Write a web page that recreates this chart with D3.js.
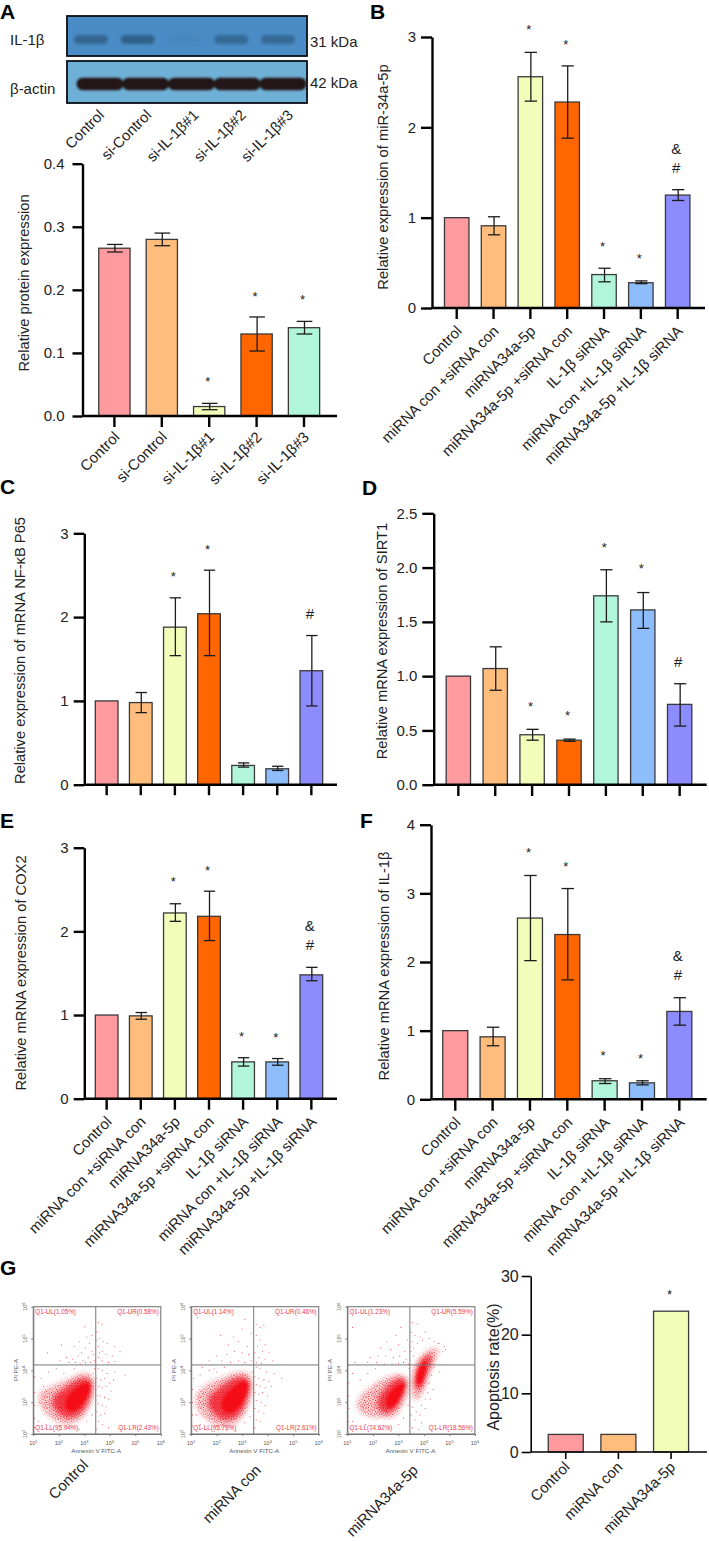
<html>
<head><meta charset="utf-8">
<style>
body { margin:0; background:#fff; }
text { font-family:"Liberation Sans", Arial, sans-serif; fill:#222; }
</style>
</head>
<body>
<svg id="svg" width="709" height="1541"></svg>
<script src="https://d3js.org/d3.v7.min.js"></script>
<script>

// --- bar data ---
var groupsA = ["Control", "si-Control", "si-IL-1\u03b2#1", "si-IL-1\u03b2#2", "si-IL-1\u03b2#3"];
var groupsLong = ["Control", "miRNA con +siRNA con", "miRNA34a-5p", "miRNA34a-5p +siRNA con", "IL-1\u03b2 siRNA", "miRNA con +IL-1\u03b2 siRNA", "miRNA34a-5p +IL-1\u03b2 siRNA"];
var groupsG = ["Control", "miRNA con", "miRNA34a-5p"];

var valsA = [0.266, 0.28, 0.015, 0.13, 0.14];
var lowA  = [0.26, 0.27, 0.01, 0.103, 0.13];
var highA = [0.272, 0.29, 0.02, 0.157, 0.15];
var marksA = [[2,"*",0.06],[3,"*",0.195],[4,"*",0.19]];

var valsB = [1, 0.91, 2.56, 2.28, 0.37, 0.28, 1.25];
var lowB  = [1, 0.81, 2.29, 1.88, 0.29, 0.27, 1.19];
var highB = [1, 1.01, 2.83, 2.68, 0.44, 0.30, 1.31];
var marksB = [[2,"*",3.12],[3,"*",2.96],[4,"*",0.72],[5,"*",0.587],[6,"&",1.77],[6,"#",1.55]];

var valsC = [1, 0.98, 1.88, 2.04, 0.23, 0.19, 1.36];
var lowC  = [1, 0.86, 1.54, 1.54, 0.21, 0.17, 0.94];
var highC = [1, 1.10, 2.23, 2.56, 0.26, 0.22, 1.78];
var marksC = [[2,"*",2.53],[3,"*",2.85],[6,"#",2.04]];

var valsD = [1, 1.07, 0.46, 0.41, 1.74, 1.61, 0.74];
var lowD  = [1, 0.87, 0.41, 0.40, 1.50, 1.44, 0.54];
var highD = [1, 1.27, 0.51, 0.42, 1.98, 1.77, 0.93];
var marksD = [[2,"*",0.755],[3,"*",0.667],[4,"*",2.22],[5,"*",2.02],[6,"#",1.13]];

var valsE = [1, 0.99, 2.22, 2.18, 0.44, 0.44, 1.48];
var lowE  = [1, 0.95, 2.12, 1.89, 0.39, 0.40, 1.41];
var highE = [1, 1.03, 2.33, 2.48, 0.49, 0.48, 1.57];
var marksE = [[2,"*",2.64],[3,"*",2.77],[4,"*",0.79],[5,"*",0.777],[6,"&",2.07],[6,"#",1.84]];

var valsF = [1, 0.91, 2.64, 2.40, 0.27, 0.24, 1.28];
var lowF  = [1, 0.78, 2.02, 1.74, 0.23, 0.21, 1.08];
var highF = [1, 1.05, 3.26, 3.07, 0.30, 0.27, 1.48];
var marksF = [[2,"*",3.65],[3,"*",3.45],[4,"*",0.69],[5,"*",0.645],[6,"&",2.10],[6,"#",1.81]];

var valsG = [3.0, 3.0, 24.0];
var lowG  = [3.0, 3.0, 24.0];
var highG = [3.0, 3.0, 24.0];
var marksG = [[2,"*",27.5]];

var ticksA = [0, 0.1, 0.2, 0.3, 0.4];
var ticks3 = [0, 1, 2, 3];
var ticksD = [0, 0.5, 1, 1.5, 2, 2.5];
var ticksF = [0, 1, 2, 3, 4];
var ticksG = [0, 10, 20, 30];

var colorsLong = ["#ff9a9e", "#ffbd7d", "#f3fdba", "#ff6600", "#b1f5db", "#8dbdfa", "#8c8cff"];
var colorsA = ["#ff9a9e", "#ffbd7d", "#f3fdba", "#ff6600", "#b1f5db"];

// --- western blot, band strength per lane ---
var blotLanes = [0, 1, 2, 3, 4];
var blotIL1b = [0.8, 0.9, 0.1, 0.72, 0.72];
var blotActin = [1, 1, 1, 1, 1];

// --- flow plots: density outlines as [log10 annexin, log10 PI] ---
var outer1 = [[1.13,3.28],[1.65,3.49],[2.24,3.64],[2.77,3.91],[3.29,3.91],[3.42,3.59],[3.29,2.96],[2.90,2.44],[2.31,2.23],[1.79,2.44],[1.33,2.75]];
var mid1 = [[1.65,3.12],[2.24,3.43],[2.77,3.75],[3.23,3.75],[3.33,3.49],[3.16,2.96],[2.77,2.54],[2.24,2.49],[1.85,2.75]];
var core1 = [[2.24,3.12],[2.64,3.43],[3.03,3.64],[3.25,3.59],[3.20,3.28],[2.90,2.86],[2.51,2.65],[2.24,2.81]];

var outer2 = [[1.1,3.25],[1.6,3.55],[2.2,3.75],[2.75,3.95],[3.3,3.95],[3.42,3.6],[3.3,2.95],[2.95,2.4],[2.3,2.15],[1.75,2.35],[1.25,2.7]];
var mid2 = [[1.55,3.1],[2.15,3.45],[2.7,3.8],[3.22,3.8],[3.33,3.5],[3.15,2.95],[2.8,2.5],[2.25,2.4],[1.8,2.7]];
var core2 = [[2.15,3.1],[2.6,3.45],[3.0,3.7],[3.25,3.62],[3.2,3.28],[2.9,2.8],[2.5,2.6],[2.2,2.75]];

var outer3 = [[1.23,2.96],[1.76,3.38],[2.28,3.70],[2.93,3.91],[3.39,3.80],[3.39,3.28],[3.06,2.75],[2.80,2.49],[2.28,2.54],[1.63,2.54]];
var mid3 = [[2.15,3.12],[2.54,3.49],[3.0,3.78],[3.32,3.75],[3.26,3.33],[2.93,2.81],[2.54,2.60],[2.21,2.75]];
var core3 = [[2.48,3.12],[2.80,3.43],[3.19,3.64],[3.28,3.54],[3.06,3.12],[2.80,2.81],[2.54,2.81]];
var outer3b = [[3.52,3.80],[3.71,4.32],[4.24,4.69],[4.63,4.74],[4.50,4.43],[4.17,3.91],[3.98,3.28],[3.65,2.96],[3.52,3.28]];
var mid3b = [[3.65,3.80],[3.85,4.32],[4.30,4.59],[4.30,4.27],[4.04,3.80],[3.91,3.38],[3.65,3.38]];
var core3b = [[3.69,3.80],[3.85,4.17],[4.11,4.38],[4.09,4.01],[3.91,3.54],[3.72,3.54]];

// stray events
var stray1 = [[3.02,5.37],[3.1,5.05],[3.3,5.1],[2.1,4.8],[2.6,4.75],[2.8,4.9],[3.2,4.85],[2.9,4.55],[3.05,4.7],[3.3,4.6],[2.3,4.4],[2.55,4.35],[2.75,4.45],[2.95,4.3],[3.15,4.4],[3.35,4.5],[1.55,4.55],[2.05,4.3],[2.4,4.25],[2.65,4.25],[2.85,4.2],[3.05,4.25],[3.25,4.25],[3.4,4.3],
  [3.55,5.5],[3.7,5.45],[3.5,5.2],[3.6,5.0],[3.75,4.9],[3.9,4.85],[4.2,4.75],[3.55,4.75],[3.7,4.6],[3.85,4.5],[4.1,4.45],[4.4,4.6],[3.55,4.4],[3.7,4.3],[3.95,4.25],[4.2,4.28],[3.6,4.55],[3.5,4.95],
  [3.55,4.05],[3.7,4.0],[3.9,3.9],[4.2,3.95],[4.6,3.85],[3.5,3.75],[3.65,3.7],[3.8,3.75],[4.0,3.6],[4.15,3.7],[3.55,3.5],[3.7,3.45],[3.85,3.5],[4.05,3.35],[3.5,3.2],[3.62,3.2],[3.8,3.15],[3.95,3.1],[3.55,2.95],[3.7,2.9],[3.85,2.85],[3.5,2.7],[3.65,2.6],[3.8,2.65],[3.55,2.4],[3.7,2.3],[3.95,2.2],[3.5,2.15],
  [1.05,3.3],[1.05,2.9],[1.05,2.5],[1.05,3.8],[1.05,2.2],[1.3,3.75],[1.6,3.95],[1.9,4.05],[2.2,3.9],[2.6,4.05],[1.25,3.0],[1.2,2.4],[1.5,2.3],[1.7,2.15],[2.0,2.1],[2.5,2.2],[2.8,2.15],[3.1,2.4],[3.3,2.6],[3.35,3.9],[3.4,4.05],[1.4,3.5]];
var stray2 = [[1.25,5.65],[2.15,5.1],[2.65,5.05],[3.0,5.3],[3.1,5.6],[2.45,4.8],[2.85,4.9],[3.2,4.75],[3.35,5.15],[2.0,4.45],[2.4,4.5],[2.7,4.6],[3.0,4.55],[3.25,4.5],[1.7,4.3],[2.2,4.3],[2.55,4.25],[2.85,4.3],[3.1,4.25],[3.35,4.3],[1.45,4.1],[1.9,4.05],[2.3,4.1],
  [3.55,5.45],[3.7,5.35],[3.85,5.4],[3.55,5.1],[3.7,4.95],[3.9,4.8],[3.6,4.75],[3.8,4.6],[4.05,4.55],[3.5,4.55],[3.65,4.4],[3.9,4.35],[4.2,4.3],[3.55,4.25],[3.75,4.22],
  [3.55,4.1],[3.7,4.05],[3.95,3.95],[4.25,3.9],[4.55,3.75],[3.5,3.8],[3.65,3.75],[3.85,3.7],[4.05,3.65],[3.55,3.55],[3.7,3.5],[3.9,3.45],[4.15,3.5],[3.5,3.3],[3.65,3.25],[3.8,3.3],[4.0,3.2],[3.55,3.05],[3.75,3.0],[3.9,2.9],[3.5,2.8],[3.65,2.7],[3.85,2.65],[3.55,2.45],[3.7,2.4],[3.5,2.2],
  [1.05,3.4],[1.05,3.0],[1.05,2.6],[1.05,2.25],[1.1,3.75],[1.35,3.85],[1.7,4.0],[2.0,3.95],[1.2,2.6],[1.35,2.3],[1.6,2.15],[1.9,2.08],[2.4,2.12],[2.75,2.1],[3.1,2.35],[3.3,2.55],[3.38,3.95]];
var stray3 = [[1.2,5.35],[2.55,4.9],[2.9,5.1],[3.1,5.35],[2.3,4.7],[2.7,4.65],[3.0,4.8],[3.25,4.6],[3.35,4.95],[1.9,4.4],[2.2,4.45],[2.5,4.45],[2.8,4.4],[3.05,4.45],[3.3,4.35],[1.3,4.25],[1.8,4.25],[2.15,4.25],[2.45,4.2],[2.75,4.2],[3.0,4.22],[3.2,4.25],[3.4,4.2],
  [3.55,5.5],[3.75,5.45],[3.5,5.2],[3.65,5.1],[3.85,5.05],[4.05,5.2],[3.55,4.9],[3.75,4.85],[3.95,4.95],[4.2,5.0],[3.6,4.7],[4.4,4.9],[4.6,4.85],[3.5,4.6],[3.6,4.45],[4.75,4.6],[4.8,4.75],[4.55,4.85],[4.85,4.65],
  [4.4,4.1],[4.6,3.95],[4.3,3.85],[4.2,3.6],[4.35,3.4],[4.15,3.3],[4.05,3.1],[4.25,3.1],[3.9,2.9],[4.05,2.8],[3.55,2.85],[3.7,2.7],[3.85,2.6],[3.5,2.6],[3.65,2.45],[3.9,2.35],[3.55,2.2],[3.8,2.15],
  [1.05,3.6],[1.05,3.2],[1.05,2.8],[1.05,2.4],[1.2,3.9],[1.5,3.7],[1.8,3.9],[2.1,4.05],[1.2,2.4],[1.45,2.25],[1.7,2.3],[1.95,2.15],[2.3,2.2],[2.6,2.15],[3.0,2.3],[3.2,2.5],[3.38,2.9],[3.42,4.05]];

var flowNames = ["Control", "miRNA con", "miRNA34a-5p"];
var quadText1 = ["Q1-UL(1.05%)", "Q1-UR(0.58%)", "Q1-LL(95.94%)", "Q1-LR(2.43%)"];
var quadText2 = ["Q1-UL(1.14%)", "Q1-UR(0.46%)", "Q1-LL(95.79%)", "Q1-LR(2.61%)"];
var quadText3 = ["Q1-UL(1.23%)", "Q1-UR(5.59%)", "Q1-LL(74.62%)", "Q1-LR(18.56%)"];
var xExp = [1, 2, 3, 4, 5, 6];
var yExp = [2, 3, 4, 5, 6];
var gateX = 3.45, gateY = 4.17;

// stipple tile for the thin edge of the clouds
var tileSparse = [[0.5,1],[3,0.5],[5.5,2],[8,1],[10,2.5],[1.5,3.5],[4,4],[7,3.5],[9,5],[0.5,6],[2.5,5.5],[5.5,6],[7.5,6.5],[10,7.5],[1.5,8],[4,7.5],[6,8.5],[8.5,9],[0.5,10],[3,10],[5.5,10.5],[10,10]];
var tileDense = [[0.5,0.5],[2,1],[3.5,0.5],[5,1.5],[6.5,0.5],[8,1.5],[9.5,0.5],[1,2.5],[2.5,3],[4,2.5],[6,3],[7.5,3],[9,2.5],[10.5,3],[0.5,4.5],[2,5],[3.5,4.5],[5,5],[6.5,4.5],[8,5],[9.5,4.5],[1,6.5],[2.5,6.5],[4,6.5],[5.5,7],[7,6.5],[8.5,7],[10,6.5],[0.5,8.5],[2,8.5],[3.5,8],[5,9],[6.5,8.5],[8,9],[9.5,8.5],[1,10.5],[3,10],[4.5,10.5],[6,10.5],[7.5,10.5],[9.5,10.5]];

var svg = d3.select("#svg");
var defs = svg.append("defs");
function blurDef(id, sd) {
  defs.append("filter").attr("id", id).attr("x", "-40%").attr("y", "-80%").attr("width", "180%").attr("height", "260%")
    .append("feGaussianBlur").attr("stdDeviation", sd);
}
blurDef("soft", 1.1);
blurDef("soft2", 1.8);
blurDef("soft3", 2.6);
blurDef("grain", 0.22);

function tile(id, dots, r) {
  var p = defs.append("pattern").attr("id", id).attr("patternUnits", "userSpaceOnUse").attr("width", 11).attr("height", 11);
  p.selectAll("circle").data(dots).join("circle").attr("cx", d => d[0]).attr("cy", d => d[1]).attr("r", r).style("fill", "#f01420");
}
tile("stipS", tileSparse, 0.55);
tile("stipD", tileDense, 0.6);

function barPanel(o) {
  var y = d3.scaleLinear().domain([0, o.max]).range([o.y0, o.yTop]);
  var x = d3.scaleBand().domain(o.groups).range([o.x0, o.x1]).paddingInner(o.pad).paddingOuter(o.pad/2);
  var g = svg.append("g");
  var mx = i => x(o.groups[i]) + x.bandwidth()/2;

  g.selectAll("rect.bar").data(o.vals).join("rect").attr("class", "bar")
    .attr("x", (d,i) => x(o.groups[i]))
    .attr("y", d => y(d))
    .attr("width", x.bandwidth())
    .attr("height", d => y(0) - y(d))
    .style("fill", (d,i) => o.colors[i])
    .style("stroke", "#3a3a3a")
    .style("stroke-width", 1.3);

  var cap = x.bandwidth()*0.25;
  o.vals.forEach((d,i) => {
    if (o.high[i] == o.low[i]) return;
    var cx = mx(i) + 0.5;
    var eb = g.append("g").style("stroke", "#1c1c1c").style("stroke-width", 1.3);
    eb.append("line").attr("x1", cx).attr("x2", cx).attr("y1", y(o.low[i])).attr("y2", y(o.high[i]));
    eb.append("line").attr("x1", cx-cap).attr("x2", cx+cap).attr("y1", y(o.low[i])).attr("y2", y(o.low[i]));
    eb.append("line").attr("x1", cx-cap).attr("x2", cx+cap).attr("y1", y(o.high[i])).attr("y2", y(o.high[i]));
  });

  g.selectAll("text.mark").data(o.marks).join("text").attr("class", "mark")
    .attr("x", d => mx(d[0]) - 1.5)
    .attr("y", d => y(d[2]))
    .attr("dy", d => d[1] == "*" ? "0.62em" : "0.36em")
    .attr("text-anchor", "middle")
    .style("font-size", d => d[1] == "*" ? "13px" : "15px")
    .text(d => d[1]);

  // axes go over the bars
  var yAxis = g.append("g").attr("transform", "translate(" + o.axisX + ",0)")
    .call(d3.axisLeft(y).tickValues(o.ticks).tickSize(o.tickLen).tickSizeOuter(0).tickPadding(o.tickPad).tickFormat(o.fmt));
  var xAxis = g.append("g").attr("transform", "translate(0," + o.y0 + ")")
    .call(d3.axisBottom(x).tickSize(o.tickDown).tickSizeOuter(0));
  xAxis.select(".domain").remove();
  xAxis.append("line").attr("x1", o.axisX).attr("x2", o.xEnd).attr("stroke", "#000").attr("stroke-width", o.axisW);

  yAxis.selectAll("path,line").attr("stroke", "#000").attr("stroke-width", o.axisW);
  xAxis.selectAll(".tick line").attr("stroke", "#000").attr("stroke-width", o.axisW);
  yAxis.selectAll("text").style("font-size", o.tickFont + "px").style("fill", "#222");

  var tx = xAxis.selectAll(".tick text");
  if (o.noLabels) tx.remove();
  else tx.attr("text-anchor", "end").attr("x", 0).attr("y", 0).attr("dy", 0)
    .attr("transform", "translate(" + o.lx + "," + o.ly + ") rotate(-45)")
    .style("font-size", "15px").style("fill", "#222");

  svg.append("text").attr("text-anchor", "middle")
    .attr("transform", "translate(" + o.titleX + "," + o.titleY + ") rotate(-90)")
    .style("font-size", o.titleFont + "px")
    .text(o.title);
}

var common = { axisW: 2.4, tickFont: 15, tickPad: 5, titleFont: 14.7 };

barPanel(Object.assign({}, common, { groups: groupsA, vals: valsA, low: lowA, high: highA, marks: marksA, colors: colorsA, ticks: ticksA, max: 0.4,
  fmt: d3.format(".1f"), y0: 416, yTop: 163.7, x0: 90.7, x1: 327.7, pad: 0.34, axisX: 82.5, xEnd: 337, tickLen: 10, tickDown: 11, tickPad: 8,
  lx: 6, ly: 22, titleX: 28.5, titleY: 283, title: "Relative protein expression" }));

barPanel(Object.assign({}, common, { groups: groupsLong, vals: valsB, low: lowB, high: highB, marks: marksB, colors: colorsLong, ticks: ticks3, max: 3,
  fmt: d3.format("d"), y0: 308, yTop: 37, x0: 438.3, x1: 696.1, pad: 0.335, axisX: 432, xEnd: 705, tickLen: 11, tickDown: 11,
  lx: 6, ly: 24, titleX: 388, titleY: 177, title: "Relative expression of miR-34a-5p" }));

barPanel(Object.assign({}, common, { groups: groupsLong, vals: valsC, low: lowC, high: highC, marks: marksC, colors: colorsLong, ticks: ticks3, max: 3,
  fmt: d3.format("d"), y0: 784.7, yTop: 533.3, x0: 89.6, x1: 328.4, pad: 0.335, axisX: 84.3, xEnd: 337, tickLen: 10.6, tickDown: 10.5, noLabels: true,
  titleX: 25, titleY: 650.5, title: "Relative expression of mRNA NF-\u03baB P65" }));

barPanel(Object.assign({}, common, { groups: groupsLong, vals: valsD, low: lowD, high: highD, marks: marksD, colors: colorsLong, ticks: ticksD, max: 2.5,
  fmt: d3.format(".1f"), y0: 784.7, yTop: 513.3, x0: 439.9, x1: 698.1, pad: 0.34, axisX: 433.7, xEnd: 706.7, tickLen: 11.4, tickDown: 11.3, noLabels: true,
  titleX: 386.5, titleY: 641, title: "Relative mRNA expression of SIRT1" }));

barPanel(Object.assign({}, common, { groups: groupsLong, vals: valsE, low: lowE, high: highE, marks: marksE, colors: colorsLong, ticks: ticks3, max: 3,
  fmt: d3.format("d"), y0: 1098.7, yTop: 847.7, x0: 89.6, x1: 328.4, pad: 0.335, axisX: 84.3, xEnd: 337, tickLen: 10.6, tickDown: 11,
  lx: 6, ly: 24, titleX: 25.5, titleY: 973, title: "Relative mRNA expression of COX2" }));

barPanel(Object.assign({}, common, { groups: groupsLong, vals: valsF, low: lowF, high: highF, marks: marksF, colors: colorsLong, ticks: ticksF, max: 4,
  fmt: d3.format("d"), y0: 1099.3, yTop: 824.7, x0: 436.6, x1: 698, pad: 0.33, axisX: 431, xEnd: 706.7, tickLen: 11, tickDown: 11.4,
  lx: 6, ly: 24, titleX: 388.5, titleY: 966, title: "Relative mRNA expression of IL-1\u03b2" }));

barPanel(Object.assign({}, common, { groups: groupsG, vals: valsG, low: lowG, high: highG, marks: marksG, colors: colorsLong, ticks: ticksG, max: 30,
  fmt: d3.format("d"), y0: 1452, yTop: 1276, x0: 539.4, x1: 697.4, pad: 0.335, axisX: 530.7, xEnd: 707, tickLen: 9, tickDown: 7, axisW: 1.6, tickFont: 16, tickPad: 3, titleFont: 16,
  lx: 5, ly: 16, titleX: 499, titleY: 1367, title: "Apoptosis rate(%)" }));

// western blot
function blot(yTop, h, fill, lanes, strength, cy, bw, bh, color, filt, range) {
  var x = d3.scalePoint().domain(lanes).range(range);
  svg.append("rect").attr("x", 67).attr("y", yTop).attr("width", 240).attr("height", h)
    .style("fill", fill).style("stroke", "#0b0f14").style("stroke-width", 1.8);
  svg.append("g").attr("filter", "url(#" + filt + ")")
    .selectAll("rect").data(lanes).join("rect")
    .attr("x", d => x(d) - bw/2)
    .attr("y", cy - bh/2)
    .attr("width", bw).attr("height", bh)
    .attr("rx", bh/2)
    .style("fill", color)
    .style("opacity", d => strength[d]);
}
blot(16, 40, "#4a8cc5", blotLanes, blotIL1b, 39.5, 34, 9, "#2f5d84", "soft2", [91, 278]);
blot(61, 42, "#6fb0d6", blotLanes, blotActin, 84, 47, 12.5, "#231418", "soft", [100, 283]);

var blotText = [["IL-1\u03b2", 10, 45], ["\u03b2-actin", 10, 93.5], ["31 kDa", 310, 46.5], ["42 kDa", 310, 88]];
svg.selectAll("text.blot").data(blotText).join("text").attr("class", "blot")
  .attr("x", d => d[1]).attr("y", d => d[2]).style("font-size", "15px").text(d => d[0]);

var blotNames = groupsA;
var blotEndX = d3.scalePoint().domain(blotNames).range([105, 294]);
svg.selectAll("text.blotn").data(blotNames).join("text").attr("class", "blotn")
  .attr("text-anchor", "end")
  .attr("transform", d => "translate(" + blotEndX(d) + ",116) rotate(-45)")
  .style("font-size", "14.8px").text(d => d);

// panel letters
var letters = [["A",0,19.2],["B",370,19.2],["C",0,494],["D",362,495],["E",0,828],["F",360,828],["G",0,1275]];
svg.selectAll("text.letter").data(letters).join("text").attr("class", "letter")
  .attr("x", d => d[1]).attr("y", d => d[2])
  .style("font-size", "21px").style("font-weight", "bold").style("fill", "#000").text(d => d[0]);

// flow plots
function sup(sel, e) {
  sel.text("10");
  sel.append("tspan").attr("dy", "-0.35em").style("font-size", "0.7em").text(e);
}

var maskNo = 0;
// stippled cloud layer whose edge fades out instead of ending on the outline
function stippled(parent, d, fillUrl, filt) {
  var id = "fade" + (maskNo++);
  defs.append("mask").attr("id", id).attr("maskUnits", "userSpaceOnUse")
    .attr("x", 0).attr("y", 1280).attr("width", 709).attr("height", 180)
    .append("path").attr("d", d).attr("filter", "url(#" + filt + ")").style("fill", "#fff");
  parent.append("rect").attr("x", 0).attr("y", 1280).attr("width", 709).attr("height", 180)
    .attr("mask", "url(#" + id + ")").style("fill", fillUrl);
}

function flow(o) {
  var x = d3.scaleLinear().domain([1, 6]).range([o.left, o.left + 127.5]);
  var y = d3.scaleLinear().domain([2, 6]).range([1434, 1306.7]);
  var g = svg.append("g");
  var blob = d3.line().x(d => x(d[0])).y(d => y(d[1])).curve(d3.curveBasisClosed);

  var blobs = g.append("g").attr("filter", "url(#grain)");
  o.outer.forEach(c => {
    blobs.append("path").attr("d", blob(c)).attr("filter", "url(#soft3)").style("fill", "#f03a45").style("opacity", 0.25);
    stippled(blobs, blob(c), "url(#stipS)", "soft3");
  });
  o.mid.forEach(c => {
    blobs.append("path").attr("d", blob(c)).attr("filter", "url(#soft3)").style("fill", "#ef1f2c").style("opacity", 0.72);
    stippled(blobs, blob(c), "url(#stipD)", "soft3");
  });
  o.core.forEach(c => blobs.append("path").attr("d", blob(c)).attr("filter", "url(#soft)").style("fill", "#f40d18"));

  g.selectAll("circle").data(o.stray).join("circle")
    .attr("cx", d => x(d[0])).attr("cy", d => y(d[1])).attr("r", 0.55)
    .style("fill", "#f0323e").style("opacity", 0.85);

  // frame and gates
  var line = "#777";
  g.append("rect").attr("x", x(1)).attr("y", y(6)).attr("width", x(6)-x(1)).attr("height", y(2)-y(6))
    .style("fill", "none").style("stroke", line).style("stroke-width", 1.1);
  g.append("line").attr("x1", x(gateX)).attr("x2", x(gateX)).attr("y1", y(2)).attr("y2", y(6)).style("stroke", line).style("stroke-width", 1);
  g.append("line").attr("x1", x(1)).attr("x2", x(6)).attr("y1", y(gateY)).attr("y2", y(gateY)).style("stroke", line).style("stroke-width", 1);

  var ax = g.append("g").attr("transform", "translate(0," + y(2) + ")")
    .call(d3.axisBottom(x).tickValues(xExp).tickSize(2).tickSizeOuter(0).tickFormat(""));
  var ay = g.append("g").attr("transform", "translate(" + x(1) + ",0)")
    .call(d3.axisLeft(y).tickValues(yExp).tickSize(2).tickSizeOuter(0).tickFormat(""));
  ax.selectAll("path,line").attr("stroke", line);
  ay.selectAll("path,line").attr("stroke", line);

  xExp.forEach(e => g.append("text").attr("x", x(e)).attr("y", 1444.5).attr("text-anchor", "middle")
    .style("font-size", "5.5px").style("fill", "#555").call(sup, e));
  yExp.forEach(e => g.append("text").attr("transform", "translate(" + (o.left - 6.5) + "," + y(e) + ") rotate(-90)").attr("text-anchor", "middle")
    .style("font-size", "5.5px").style("fill", "#555").call(sup, e));

  g.append("text").attr("x", o.left + 63).attr("y", 1453).attr("text-anchor", "middle").style("font-size", "6.2px").style("fill", "#555").text("Annexin V FITC-A");
  g.append("text").attr("transform", "translate(" + (o.left - 15) + ",1370) rotate(-90)").attr("text-anchor", "middle").style("font-size", "6.2px").style("fill", "#555").text("PI PE-A");

  var q = [[2, 1314, "start"], [125.5, 1314, "end"], [2, 1430, "start"], [125.5, 1430, "end"]];
  g.selectAll("text.q").data(o.quad).join("text").attr("class", "q")
    .attr("x", (d,i) => o.left + q[i][0]).attr("y", (d,i) => q[i][1]).attr("text-anchor", (d,i) => q[i][2])
    .style("font-size", "6.3px").style("fill", "#ec3a4c").text(d => d);

  svg.append("text").attr("text-anchor", "end")
    .attr("transform", "translate(" + o.nameX + "," + o.nameY + ") rotate(-45)")
    .style("font-size", "15px").text(o.name);
}

flow({ left: 33.3, outer: [outer1], mid: [mid1], core: [core1], stray: stray1, quad: quadText1, name: flowNames[0], nameX: 89, nameY: 1466 });
flow({ left: 191.2, outer: [outer2], mid: [mid2], core: [core2], stray: stray2, quad: quadText2, name: flowNames[1], nameX: 262, nameY: 1471 });
flow({ left: 347.4, outer: [outer3, outer3b], mid: [mid3, mid3b], core: [core3, core3b], stray: stray3, quad: quadText3, name: flowNames[2], nameX: 419, nameY: 1471 });

</script>
</body>
</html>
